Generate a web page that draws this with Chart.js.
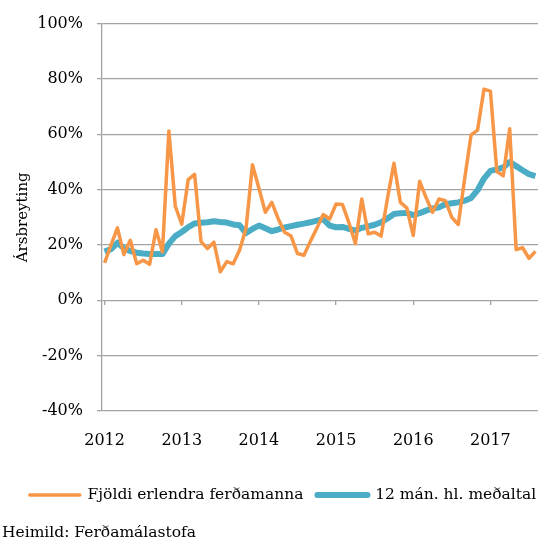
<!DOCTYPE html>
<html>
<head>
<meta charset="utf-8">
<script src="https://cdn.jsdelivr.net/npm/chart.js@4.4.1/dist/chart.umd.min.js"></script>
<style>
html, body { margin: 0; padding: 0; background: #fff; }
#wrap { width: 538px; height: 542px; }
</style>
</head>
<body>
<div id="wrap"><canvas id="canvas_tourists"></canvas></div>
<script>
// year labels, one every 12 months starting Jan 2012
var year_labels = ["2012", "2013", "2014", "2015", "2016", "2017"];

// monthly change in number of foreign tourists (%), Jan 2012 - Aug 2017
var tourists = [
    13.5, 20, 26.2, 16.5, 21.7, 13.2, 14.5, 13, 25.5, 17.5, 61.2, 34,
    27.5, 43.6, 45.5, 21.2, 18.7, 21, 10.3, 14, 13.2, 18.2, 26, 49,
    40.5, 31.8, 35.4, 29.5, 24.6, 23.2, 16.9, 16.3, 21.3, 26, 31, 29.4,
    34.8, 34.6, 28, 20.5, 36.6, 24, 24.6, 23.2, 37, 49.5, 35.4, 33.4,
    23.4, 43, 37.1, 31.8, 36.6, 36, 30, 27.4, 44, 59.8, 61.5, 76.3,
    75.6, 46.5, 45, 62, 18.3, 19, 15.2, 17.7
];

// 12 month moving average (%)
var avg_12m = [
    17.6, 18.5, 20.8, 18.8, 17.8, 17.2, 16.9, 16.7, 16.7, 16.7, 20.5, 23.2,
    24.7, 26.4, 27.8, 28, 28.2, 28.6, 28.3, 28.1, 27.4, 27.1, 24.3, 25.8,
    27, 26, 25, 25.6, 26.3, 26.8, 27.3, 27.7, 28.2, 28.8, 29.3, 27,
    26.4, 26.5, 25.8, 25.2, 26.2, 26.7, 27.3, 28.2, 29.6, 31.2, 31.5, 31.6,
    30.8, 31.5, 32.4, 33.2, 33.6, 34.7, 35.1, 35.4, 36, 37, 39.8, 44,
    46.8, 47.3, 48, 50, 48.5, 47, 45.6, 44.9
];

var grid_color = "#a3a3a3";

Chart.defaults.font.family = "'DejaVu Serif', serif";
Chart.defaults.font.size = 15.5;
Chart.defaults.color = "#000";

function toPoints(values) {
    var pts = [];
    for (var i = 0; i < values.length; i++) {
        pts.push({x: i, y: values[i]});
    }
    return pts;
}

function yearTicks(scale) {
    var t = [];
    for (var k = 0; k < year_labels.length; k++) {
        t.push({value: k * 12});
    }
    scale.ticks = t;
}

// legend sits a bit right of centre in the original
var legendShift = {
    id: 'legendShift',
    afterLayout: function(chart) {
        chart.legend.left += 13;
        chart.legend.right += 13;
    }
};

var ctx = document.getElementById("canvas_tourists").getContext("2d");
var lineChart = new Chart(ctx, {
    type: 'line',
    data: {
        datasets: [{
            label: "Fjöldi erlendra ferðamanna",
            data: toPoints(tourists),
            borderColor: "#F79646",
            backgroundColor: "#F79646",
            borderWidth: 3.5,
            borderJoinStyle: 'round',
            pointRadius: 0,
            pointStyle: 'line',
            tension: 0,
            fill: false
        }, {
            label: "12 mán. hl. meðaltal",
            data: toPoints(avg_12m),
            borderColor: "#4BACC6",
            backgroundColor: "#4BACC6",
            borderWidth: 6,
            borderJoinStyle: 'round',
            pointRadius: 0,
            pointStyle: 'line',
            tension: 0,
            fill: false
        }]
    },
    options: {
        responsive: true,
        maintainAspectRatio: false,
        animation: false,
        devicePixelRatio: 1,
        layout: {padding: {left: 2, top: 9.5, right: 0, bottom: 0}},
        scales: {
            x: {
                type: 'linear',
                min: -0.4,
                max: 67.4,
                afterBuildTicks: yearTicks,
                afterFit: function(scale) { scale.height = 62.3; },
                grid: {display: false},
                border: {display: false},
                ticks: {
                    padding: 12,
                    font: {size: 16},
                    maxRotation: 0,
                    callback: function(v) { return year_labels[v / 12]; }
                }
            },
            x_marks: {
                type: 'linear',
                axis: 'x',
                position: {y: 0},
                min: -0.4,
                max: 67.4,
                afterBuildTicks: yearTicks,
                grid: {drawOnChartArea: false, drawTicks: true, tickLength: 5, color: grid_color, lineWidth: 1.3},
                border: {display: false},
                ticks: {display: false}
            },
            y: {
                min: -40,
                max: 100,
                afterFit: function(scale) { scale.width = 100; },
                ticks: {
                    stepSize: 20,
                    padding: 14,
                    font: {size: 16},
                    callback: function(v) { return v + "%"; }
                },
                grid: {color: grid_color, lineWidth: 1.3, tickLength: 5},
                border: {color: grid_color, width: 1.3},
                title: {display: true, text: "Ársbreyting", font: {size: 15}, padding: {top: 12, bottom: 4}}
            }
        },
        plugins: {
            legend: {
                position: 'bottom',
                labels: {
                    usePointStyle: true,
                    pointStyleWidth: 50,
                    padding: 14,
                    font: {size: 15.5},
                    generateLabels: function(chart) {
                        var items = Chart.defaults.plugins.legend.labels.generateLabels(chart);
                        items.forEach(function(it) { it.lineCap = 'round'; });
                        return items;
                    }
                }
            },
            title: {
                display: true,
                position: 'bottom',
                align: 'start',
                text: "Heimild: Ferðamálastofa",
                font: {size: 15.5, weight: 'normal'},
                padding: {top: 10.6, bottom: 0}
            },
            tooltip: {enabled: false}
        }
    },
    plugins: [legendShift]
});
</script>
</body>
</html>
